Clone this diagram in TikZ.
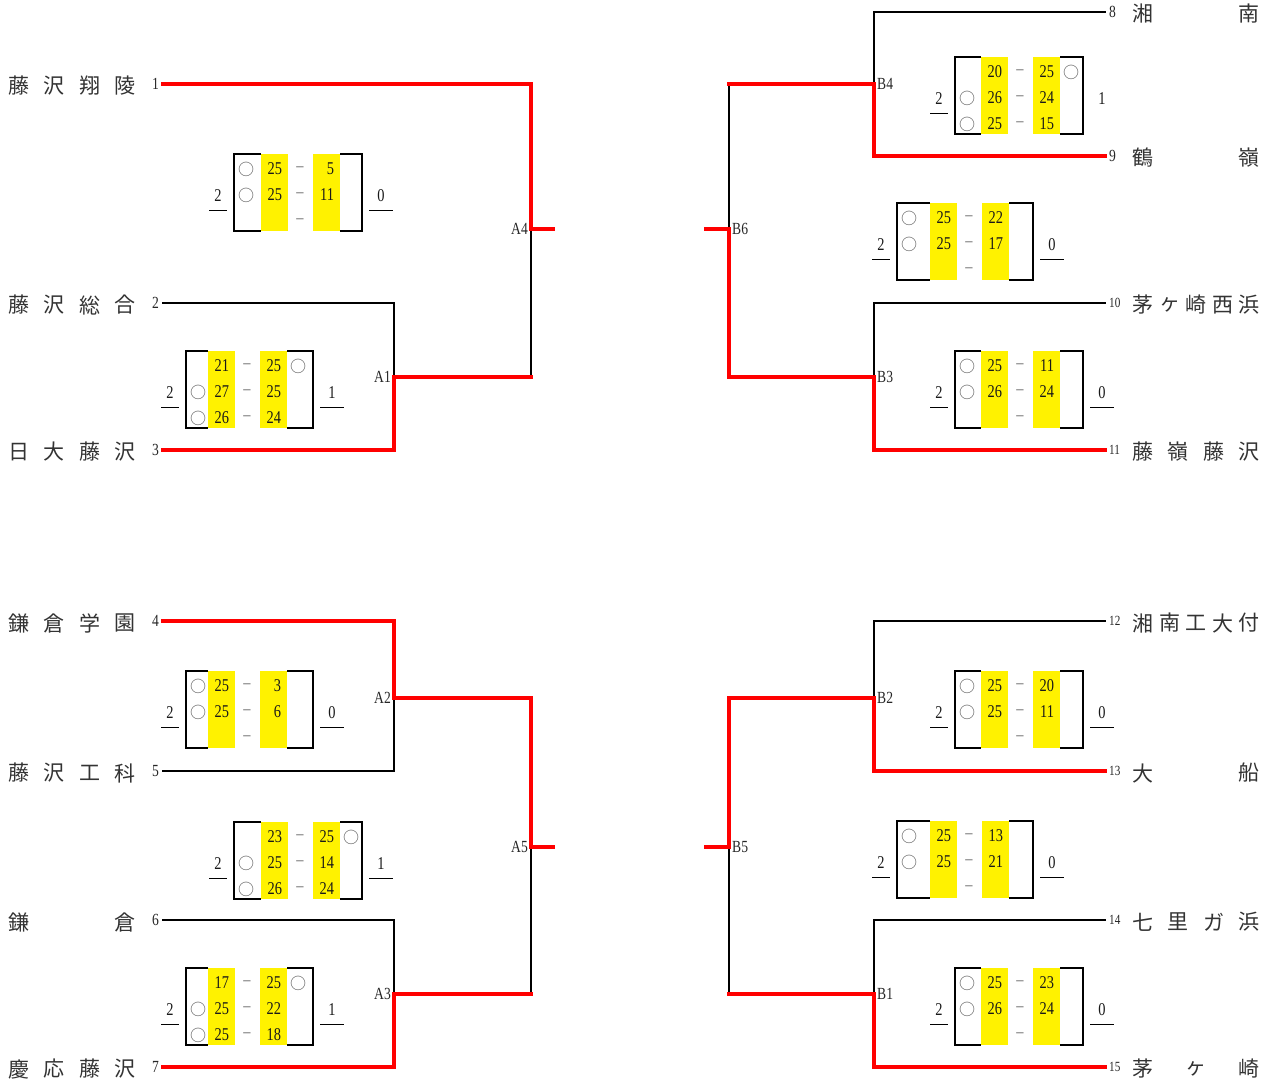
\documentclass[tikz,border=0pt]{standalone}
\usepackage{fontspec}
\newfontfamily\jp{Noto Sans CJK JP}
\newfontfamily\numfont{Liberation Serif}[FakeStretch=0.8]
\usetikzlibrary{calc}
\tikzset{lose/.style={draw=black, line width=2pt, line cap=rect}}
\tikzset{win/.style={draw=red, line width=4.5pt, line cap=rect}}
\tikzset{tname/.style={font=\jp\fontsize{21}{21}\selectfont, inner sep=0pt, text=black!80}}
\tikzset{tnum/.style={font=\numfont\fontsize{17}{17}\selectfont, inner sep=4pt, text=black!85}}
\tikzset{mlabel/.style={font=\numfont\fontsize{17}{17}\selectfont, inner sep=3pt, text=black!85}}
\tikzset{setpt/.style={font=\numfont\fontsize{18}{18}\selectfont, inner sep=0pt, text width=15pt, align=right, text=black!90}}
\tikzset{setcount/.style={font=\numfont\fontsize{18}{18}\selectfont, inner sep=0pt, text=black!90}}
\tikzset{setdash/.style={font=\numfont\fontsize{18}{18}\selectfont, inner sep=0pt, text=black!60}}
\tikzset{setmark/.style={font=\jp\fontsize{16}{16}\selectfont, inner sep=0pt, text=black!65}}
\tikzset{bracket/.style={draw=black, line width=2pt}}
\tikzset{uline/.style={draw=black, line width=1.2pt}}

% #1 name, #2 x, #3 y, #4 yellow offset, #5 width, #6/#7 sets won, #8 right line, #9 sets
\newcommand{\scorebox}[9]{%
  \begin{scope}[shift={(#2,#3)}]
    \fill[yellow] (#4,0) rectangle ++(27,77);
    \fill[yellow] (#4+52,0) rectangle ++(27,77);
    \draw[bracket] (#4,0) -| (0,77) -- (#4,77);
    \draw[bracket] (#4+79,0) -| (#5,77) -- (#4+79,77);
    \foreach \rw in {1,2,3}
      \node[setdash] (#1-d\rw) at ({#4+39},{15+26*\rw-26}) {–};
    \foreach \rw/\won/\sa/\sb in {#9} {
      \node[setpt] (#1-a\rw) at ({#4+13.5},{15+26*\rw-26}) {\sa};
      \node[setpt] (#1-b\rw) at ({#4+65.5},{15+26*\rw-26}) {\sb};
      \node[setmark] (#1-m\rw) at ({12+\won*(#4+78)},{15+26*\rw-26}) {○};
    }
    \node[setcount] (#1-l) at (-16,42) {#6};
    \draw[uline] (#1-l.south) +(-9,8) -- +(9,8);
    \node[setcount] (#1-r) at (#5+19,42) {#7};
    \draw[uline,#8] (#1-r.south) +(-12,8) -- +(12,8);
  \end{scope}}

\begin{document}
\begin{tikzpicture}[x=1pt,y=-1pt]
  \useasboundingbox (0,0) rectangle (1272,1085);

  % teams
  \foreach \k/\y/\n/\chars in {
    1/84/4/{藤,沢,翔,陵},
    2/303/4/{藤,沢,総,合},
    3/450/4/{日,大,藤,沢},
    4/621/4/{鎌,倉,学,園},
    5/771/4/{藤,沢,工,科},
    6/920/2/{鎌,倉},
    7/1067/4/{慶,応,藤,沢}%
  } {
    \coordinate (t\k) at (163,\y);
    \node[tnum, left] (n\k) at (t\k) {\k};
    \foreach \ch [count=\ci] in \chars
      \node[tname] (t\k-\ci) at ({19+(\ci-1)*106/(\n-1)},\y+2) {\ch};
  }
  \foreach \k/\y/\n/\chars in {
    8/12/2/{湘,南},
    9/156/2/{鶴,嶺},
    10/303/5/{茅,ヶ,崎,西,浜},
    11/450/4/{藤,嶺,藤,沢},
    12/621/5/{湘,南,工,大,付},
    13/771/2/{大,船},
    14/920/4/{七,里,ガ,浜},
    15/1067/3/{茅,ヶ,崎}%
  } {
    \coordinate (t\k) at (1105,\y);
    \node[tnum, right] (n\k) at (t\k) {\ifnum\k>9 \fontsize{14}{14}\selectfont\fi\k};
    \foreach \ch [count=\ci] in \chars
      \node[tname] (t\k-\ci) at ({1143+(\ci-1)*106/(\n-1)},\y+2) {\ch};
  }

  % matches
  \coordinate (A1) at (394,377);
  \coordinate (A2) at (394,698);
  \coordinate (A3) at (394,994);
  \coordinate (A4) at (531,229);
  \coordinate (A5) at (531,847);
  \coordinate (A4e) at (553,229);
  \coordinate (A5e) at (553,847);
  \coordinate (B4) at (874,84);
  \coordinate (B3) at (874,377);
  \coordinate (B2) at (874,698);
  \coordinate (B1) at (874,994);
  \coordinate (B6) at (729,229);
  \coordinate (B5) at (729,847);
  \coordinate (B6e) at (706,229);
  \coordinate (B5e) at (706,847);

  \draw[lose] (t2) -| (A1);
  \draw[lose] (A1 -| A4) -- (A4);
  \draw[lose] (t5) -| (A2);
  \draw[lose] (t6) -| (A3);
  \draw[lose] (A3 -| A5) -- (A5);
  \draw[lose] (t8) -| (B4);
  \draw[lose] (B4 -| B6) -- (B6);
  \draw[lose] (t10) -| (B3);
  \draw[lose] (t12) -| (B2);
  \draw[lose] (t14) -| (B1);
  \draw[lose] (B1 -| B5) -- (B5);

  \draw[win] (t1) -| (A4);
  \draw[win] (A4) -- (A4e);
  \draw[win] (t3) -| (A1);
  \draw[win] (A1) -- (A1 -| A4);
  \draw[win] (t4) -| (A2);
  \draw[win] (A2) -- (A2 -| A5) -- (A5);
  \draw[win] (A5) -- (A5e);
  \draw[win] (t7) -| (A3);
  \draw[win] (A3) -- (A3 -| A5);
  \draw[win] (t9) -| (B4);
  \draw[win] (B4) -- (B4 -| B6);
  \draw[win] (t11) -| (B3);
  \draw[win] (B3) -- (B3 -| B6) -- (B6);
  \draw[win] (B6) -- (B6e);
  \draw[win] (t13) -| (B2);
  \draw[win] (B2) -- (B2 -| B5) -- (B5);
  \draw[win] (B5) -- (B5e);
  \draw[win] (t15) -| (B1);
  \draw[win] (B1) -- (B1 -| B5);

  \foreach \m in {A1,A2,A3,A4,A5}
    \node[mlabel, left] (l\m) at (\m) {\m};
  \foreach \m in {B1,B2,B3,B4,B5,B6}
    \node[mlabel, right] (l\m) at (\m) {\m};

  % scores
  \scorebox{sA4}{234}{154}{27}{128}{2}{0}{}{1/0/25/5, 2/0/25/11}
  \scorebox{sA1}{186}{351}{22}{127}{2}{1}{}{1/1/21/25, 2/0/27/25, 3/0/26/24}
  \scorebox{sA2}{186}{671}{22}{127}{2}{0}{}{1/0/25/3, 2/0/25/6}
  \scorebox{sA5}{234}{822}{27}{128}{2}{1}{}{1/1/23/25, 2/0/25/14, 3/0/26/24}
  \scorebox{sA3}{186}{968}{22}{127}{2}{1}{}{1/1/17/25, 2/0/25/22, 3/0/25/18}
  \scorebox{sB4}{955}{57}{26}{128}{2}{1}{draw=none}{1/1/20/25, 2/0/26/24, 3/0/25/15}
  \scorebox{sB6}{897}{203}{33}{136}{2}{0}{}{1/0/25/22, 2/0/25/17}
  \scorebox{sB3}{955}{351}{26}{128}{2}{0}{}{1/0/25/11, 2/0/26/24}
  \scorebox{sB2}{955}{671}{26}{128}{2}{0}{}{1/0/25/20, 2/0/25/11}
  \scorebox{sB5}{897}{821}{33}{136}{2}{0}{}{1/0/25/13, 2/0/25/21}
  \scorebox{sB1}{955}{968}{26}{128}{2}{0}{}{1/0/25/23, 2/0/26/24}
\end{tikzpicture}
\end{document}
